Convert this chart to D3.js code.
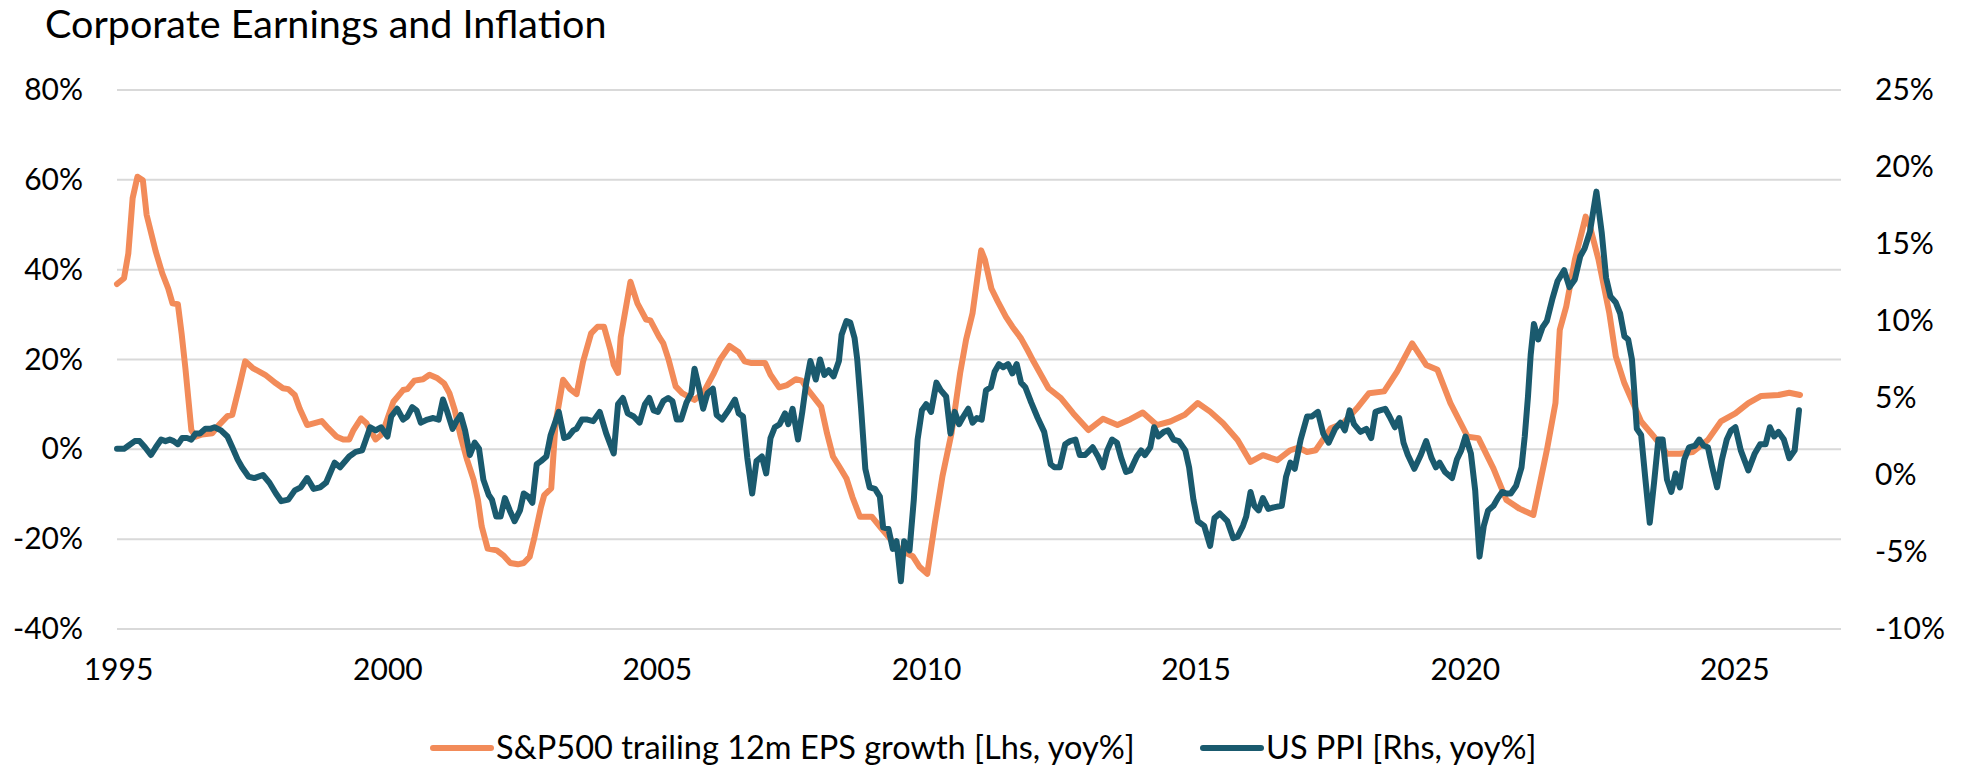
<!DOCTYPE html>
<html>
<head>
<meta charset="utf-8">
<script src="https://cdn.jsdelivr.net/npm/d3@7"></script>
<style>
  body { margin: 0; background: #fff; }
  svg { display: block; font-family: Lato, "Open Sans", sans-serif; }
</style>
</head>
<body>
<svg id="chart" width="1962" height="767"></svg>
<script>
// chart text
const title = "Corporate Earnings and Inflation";
const epsLabel = "S&P500 trailing 12m EPS growth [Lhs, yoy%]";
const ppiLabel = "US PPI [Rhs, yoy%]";

// axis ticks
const yearTicks = [1995, 2000, 2005, 2010, 2015, 2020, 2025];
const leftTicks = [-40, -20, 0, 20, 40, 60, 80];
const rightTicks = [-10, -5, 0, 5, 10, 15, 20, 25];

// S&P500 trailing 12m EPS growth, [decimal year, yoy %]
const epsData = [
  [1995.0, 36.8], [1995.13, 38.1], [1995.21, 43.6], [1995.29, 55.9], [1995.38, 60.7], [1995.48, 59.9],
  [1995.55, 52.2], [1995.72, 44.0], [1995.84, 39.2], [1995.95, 35.8], [1996.03, 32.5], [1996.13, 32.3],
  [1996.2, 25.7], [1996.27, 18.0], [1996.38, 4.3], [1996.46, 2.8], [1996.58, 3.3], [1996.77, 3.6],
  [1996.89, 5.4], [1997.05, 7.4], [1997.14, 7.7], [1997.27, 14.0], [1997.38, 19.6], [1997.52, 18.1],
  [1997.75, 16.6], [1997.95, 14.7], [1998.08, 13.6], [1998.18, 13.4], [1998.3, 12.1], [1998.39, 9.1],
  [1998.53, 5.4], [1998.65, 5.8], [1998.8, 6.3], [1998.92, 4.7], [1999.08, 2.8], [1999.2, 2.2],
  [1999.31, 2.2], [1999.39, 4.3], [1999.53, 6.9], [1999.63, 5.8], [1999.7, 4.3], [1999.8, 2.2],
  [1999.9, 3.2], [1999.98, 5.4], [2000.13, 10.6], [2000.31, 13.2], [2000.39, 13.4], [2000.52, 15.3],
  [2000.68, 15.6], [2000.8, 16.6], [2000.95, 15.8], [2001.07, 14.7], [2001.17, 12.5], [2001.27, 8.7],
  [2001.38, 2.8], [2001.5, -2.4], [2001.62, -6.8], [2001.7, -11.3], [2001.77, -17.2], [2001.88, -22.1],
  [2002.05, -22.5], [2002.17, -23.6], [2002.3, -25.3], [2002.44, -25.6], [2002.55, -25.3], [2002.66, -23.9],
  [2002.75, -19.5], [2002.87, -12.8], [2002.93, -10.2], [2003.06, -8.7], [2003.14, 5.8], [2003.28, 15.5],
  [2003.41, 13.4], [2003.53, 12.3], [2003.65, 19.5], [2003.8, 25.8], [2003.92, 27.3], [2004.04, 27.3],
  [2004.16, 22.1], [2004.22, 18.8], [2004.3, 17.0], [2004.35, 25.0], [2004.53, 37.3], [2004.66, 32.5],
  [2004.82, 28.9], [2004.9, 28.7], [2005.06, 25.1], [2005.14, 23.6], [2005.24, 19.9], [2005.37, 14.0],
  [2005.49, 12.5], [2005.72, 11.0], [2005.88, 12.5], [2006.08, 17.0], [2006.19, 19.9], [2006.37, 23.0],
  [2006.54, 21.6], [2006.65, 19.6], [2006.78, 19.2], [2007.03, 19.2], [2007.13, 16.6], [2007.29, 13.8],
  [2007.44, 14.3], [2007.6, 15.6], [2007.71, 15.3], [2007.83, 13.2], [2008.07, 9.5], [2008.18, 3.5],
  [2008.29, -1.6], [2008.42, -4.1], [2008.54, -6.5], [2008.65, -10.6], [2008.79, -15.0], [2009.01, -15.0],
  [2009.16, -17.2], [2009.32, -19.5], [2009.55, -22.5], [2009.77, -23.8], [2009.9, -26.2], [2010.04, -27.7],
  [2010.18, -16.5], [2010.32, -6.1], [2010.49, 3.6], [2010.65, 17.0], [2010.76, 24.4], [2010.88, 30.3],
  [2011.04, 44.3], [2011.11, 42.2], [2011.23, 35.8], [2011.35, 32.9], [2011.5, 29.5], [2011.62, 27.3],
  [2011.78, 24.7], [2011.9, 22.1], [2012.01, 19.6], [2012.29, 13.6], [2012.52, 11.4], [2012.75, 8.0],
  [2013.03, 4.3], [2013.3, 6.8], [2013.57, 5.4], [2013.81, 6.7], [2014.04, 8.2], [2014.3, 5.4],
  [2014.55, 6.2], [2014.82, 7.7], [2015.06, 10.3], [2015.29, 8.4], [2015.53, 5.8], [2015.8, 2.1],
  [2016.04, -2.8], [2016.27, -1.3], [2016.54, -2.4], [2016.78, -0.2], [2016.93, 0.4], [2017.09, -0.6],
  [2017.25, -0.2], [2017.53, 4.7], [2017.76, 5.8], [2018.04, 9.5], [2018.24, 12.5], [2018.52, 12.9],
  [2018.76, 17.3], [2019.04, 23.6], [2019.3, 18.8], [2019.51, 17.7], [2019.75, 10.3], [2020.07, 2.8],
  [2020.27, 2.5], [2020.55, -4.3], [2020.79, -11.3], [2021.03, -13.2], [2021.29, -14.6], [2021.54, -0.2],
  [2021.7, 10.3], [2021.78, 26.6], [2021.9, 31.8], [2022.06, 42.2], [2022.26, 51.8], [2022.34, 49.6],
  [2022.5, 42.2], [2022.7, 30.3], [2022.82, 20.7], [2022.98, 14.7], [2023.13, 10.6], [2023.29, 6.2],
  [2023.53, 2.8], [2023.77, -1.0], [2024.01, -1.0], [2024.25, -0.6], [2024.53, 2.1], [2024.77, 6.2],
  [2025.04, 8.0], [2025.28, 10.3], [2025.52, 11.9], [2025.84, 12.1], [2026.04, 12.6], [2026.24, 12.1]
];

// US PPI, [decimal year, yoy %]
const ppiData = [
  [1995.0, 1.7], [1995.13, 1.7], [1995.21, 1.9], [1995.33, 2.2], [1995.42, 2.2], [1995.52, 1.8],
  [1995.63, 1.3], [1995.72, 1.8], [1995.82, 2.3], [1995.9, 2.2], [1995.98, 2.3], [1996.05, 2.2],
  [1996.13, 2.0], [1996.21, 2.4], [1996.3, 2.4], [1996.38, 2.3], [1996.46, 2.7], [1996.54, 2.7],
  [1996.64, 3.0], [1996.73, 3.0], [1996.81, 3.1], [1996.93, 2.9], [1997.05, 2.5], [1997.14, 1.8],
  [1997.24, 1.0], [1997.32, 0.5], [1997.44, -0.1], [1997.55, -0.2], [1997.71, 0.0], [1997.83, -0.5],
  [1997.95, -1.2], [1998.05, -1.7], [1998.18, -1.6], [1998.3, -1.0], [1998.41, -0.8], [1998.53, -0.2],
  [1998.65, -0.9], [1998.77, -0.8], [1998.88, -0.5], [1999.04, 0.8], [1999.14, 0.5], [1999.31, 1.2],
  [1999.43, 1.5], [1999.55, 1.6], [1999.61, 2.2], [1999.7, 3.1], [1999.8, 2.9], [1999.9, 3.1],
  [2000.02, 2.5], [2000.09, 3.8], [2000.2, 4.3], [2000.31, 3.6], [2000.39, 3.8], [2000.48, 4.4],
  [2000.56, 4.2], [2000.64, 3.4], [2000.76, 3.6], [2000.87, 3.7], [2000.97, 3.6], [2001.05, 4.9],
  [2001.13, 4.1], [2001.23, 3.0], [2001.3, 3.5], [2001.38, 3.9], [2001.46, 2.9], [2001.55, 1.3],
  [2001.64, 2.1], [2001.72, 1.7], [2001.8, -0.3], [2001.9, -1.3], [2001.96, -1.6], [2002.04, -2.7],
  [2002.12, -2.7], [2002.2, -1.5], [2002.29, -2.3], [2002.38, -3.0], [2002.48, -2.3], [2002.55, -1.2],
  [2002.63, -1.4], [2002.71, -1.8], [2002.79, 0.7], [2002.87, 0.9], [2002.97, 1.2], [2003.05, 2.6],
  [2003.13, 3.4], [2003.2, 4.1], [2003.3, 2.4], [2003.38, 2.5], [2003.47, 2.9], [2003.53, 3.0],
  [2003.63, 3.6], [2003.73, 3.6], [2003.84, 3.5], [2003.96, 4.1], [2004.08, 2.7], [2004.22, 1.4],
  [2004.3, 4.6], [2004.39, 5.0], [2004.48, 4.0], [2004.59, 3.8], [2004.7, 3.4], [2004.8, 4.6],
  [2004.88, 5.0], [2004.96, 4.2], [2005.04, 4.1], [2005.14, 4.8], [2005.23, 5.0], [2005.31, 4.8],
  [2005.39, 3.6], [2005.47, 3.6], [2005.57, 4.7], [2005.66, 5.3], [2005.72, 6.9], [2005.8, 5.7],
  [2005.88, 4.3], [2005.96, 5.3], [2006.06, 5.6], [2006.13, 3.9], [2006.23, 3.6], [2006.35, 4.2],
  [2006.47, 4.9], [2006.54, 4.0], [2006.62, 3.8], [2006.7, 1.1], [2006.79, -1.2], [2006.87, 0.9],
  [2006.97, 1.2], [2007.05, 0.1], [2007.13, 2.4], [2007.21, 3.1], [2007.3, 3.3], [2007.4, 4.0],
  [2007.46, 3.3], [2007.54, 4.3], [2007.64, 2.3], [2007.72, 4.1], [2007.79, 5.9], [2007.87, 7.4],
  [2007.97, 6.2], [2008.05, 7.5], [2008.13, 6.5], [2008.21, 6.8], [2008.3, 6.4], [2008.4, 7.4],
  [2008.45, 9.1], [2008.54, 10.0], [2008.61, 9.9], [2008.69, 8.9], [2008.74, 7.5], [2008.81, 4.4],
  [2008.89, 0.4], [2008.97, -0.8], [2009.07, -0.9], [2009.16, -1.4], [2009.22, -3.4], [2009.32, -3.5],
  [2009.4, -4.8], [2009.47, -4.3], [2009.55, -6.9], [2009.61, -4.3], [2009.71, -4.9], [2009.79, -1.6],
  [2009.86, 2.3], [2009.94, 4.2], [2010.02, 4.6], [2010.11, 4.1], [2010.21, 6.0], [2010.29, 5.5],
  [2010.39, 5.1], [2010.47, 2.7], [2010.55, 4.1], [2010.63, 3.3], [2010.71, 3.8], [2010.8, 4.3],
  [2010.88, 3.4], [2010.96, 3.7], [2011.05, 3.6], [2011.13, 5.5], [2011.22, 5.7], [2011.29, 6.7],
  [2011.37, 7.2], [2011.45, 7.0], [2011.54, 7.2], [2011.62, 6.6], [2011.7, 7.2], [2011.78, 6.0],
  [2011.86, 5.7], [2011.97, 4.7], [2012.09, 3.7], [2012.21, 2.8], [2012.33, 0.7], [2012.4, 0.5],
  [2012.5, 0.5], [2012.6, 2.0], [2012.69, 2.2], [2012.79, 2.3], [2012.87, 1.3], [2012.97, 1.3],
  [2013.11, 1.8], [2013.21, 1.2], [2013.3, 0.5], [2013.38, 1.6], [2013.47, 2.3], [2013.56, 2.1],
  [2013.64, 1.1], [2013.73, 0.2], [2013.81, 0.3], [2013.93, 1.2], [2014.01, 1.6], [2014.08, 1.3],
  [2014.18, 1.8], [2014.25, 3.1], [2014.33, 2.5], [2014.43, 2.8], [2014.51, 2.9], [2014.61, 2.3],
  [2014.71, 2.2], [2014.83, 1.6], [2014.9, 0.5], [2014.98, -1.6], [2015.06, -3.0], [2015.18, -3.3],
  [2015.29, -4.6], [2015.37, -2.8], [2015.47, -2.5], [2015.61, -3.0], [2015.72, -4.1], [2015.8, -4.0],
  [2015.9, -3.3], [2015.96, -2.7], [2016.04, -1.1], [2016.11, -2.0], [2016.19, -2.3], [2016.27, -1.5],
  [2016.37, -2.2], [2016.47, -2.1], [2016.62, -2.0], [2016.7, -0.1], [2016.78, 0.8], [2016.86, 0.4],
  [2016.97, 2.3], [2017.09, 3.8], [2017.18, 3.8], [2017.29, 4.1], [2017.39, 2.7], [2017.49, 2.1],
  [2017.61, 3.0], [2017.71, 3.4], [2017.79, 2.9], [2017.88, 4.2], [2017.96, 3.3], [2018.08, 2.8],
  [2018.19, 3.0], [2018.28, 2.4], [2018.36, 4.1], [2018.44, 4.2], [2018.54, 4.3], [2018.62, 3.8],
  [2018.72, 3.1], [2018.8, 3.7], [2018.88, 2.1], [2018.96, 1.3], [2019.08, 0.4], [2019.2, 1.3],
  [2019.3, 2.2], [2019.4, 1.1], [2019.48, 0.5], [2019.55, 0.8], [2019.65, 0.2], [2019.78, -0.2],
  [2019.87, 1.0], [2019.95, 1.6], [2020.03, 2.5], [2020.13, 1.4], [2020.21, -1.0], [2020.29, -5.3],
  [2020.37, -3.3], [2020.45, -2.3], [2020.55, -2.0], [2020.63, -1.5], [2020.71, -1.1], [2020.79, -1.2],
  [2020.87, -1.2], [2020.97, -0.7], [2021.07, 0.5], [2021.13, 2.5], [2021.19, 5.1], [2021.24, 7.8],
  [2021.3, 9.8], [2021.38, 8.8], [2021.46, 9.6], [2021.54, 10.0], [2021.64, 11.4], [2021.74, 12.6],
  [2021.86, 13.3], [2021.96, 12.2], [2022.06, 12.7], [2022.16, 14.2], [2022.24, 14.7], [2022.34, 15.8],
  [2022.46, 18.4], [2022.56, 15.7], [2022.64, 12.8], [2022.72, 11.6], [2022.82, 11.2], [2022.9, 10.5],
  [2022.98, 9.0], [2023.05, 8.8], [2023.12, 7.5], [2023.17, 5.1], [2023.21, 3.0], [2023.29, 2.6],
  [2023.37, -0.3], [2023.45, -3.1], [2023.53, -0.5], [2023.61, 2.3], [2023.69, 2.3], [2023.77, -0.3],
  [2023.85, -1.1], [2023.93, 0.1], [2024.01, -0.8], [2024.09, 1.0], [2024.18, 1.8], [2024.29, 1.9],
  [2024.37, 2.3], [2024.45, 1.9], [2024.53, 1.8], [2024.61, 0.5], [2024.7, -0.8], [2024.79, 1.0],
  [2024.88, 2.3], [2024.96, 2.9], [2025.04, 3.1], [2025.14, 1.6], [2025.28, 0.3], [2025.4, 1.4],
  [2025.5, 2.0], [2025.6, 2.0], [2025.68, 3.1], [2025.76, 2.5], [2025.84, 2.8], [2025.94, 2.3],
  [2026.04, 1.1], [2026.14, 1.6], [2026.22, 4.2]
];

const colors = { eps: "#F28B59", ppi: "#1A5A6E", grid: "#D9D9D9", text: "#000" };

const svg = d3.select("#chart");
const plot = { left: 117, right: 1841, top: 90, bottom: 629 };

const x = d3.scaleLinear().domain([1995, 2027]).range([plot.left, plot.right]);
const yL = d3.scaleLinear().domain([-40, 80]).range([plot.bottom, plot.top]);
const yR = d3.scaleLinear().domain([-10, 25]).range([plot.bottom, plot.top]);

// title
svg.append("text")
  .attr("x", 45).attr("y", 38)
  .attr("font-size", 39.5)
  .attr("fill", colors.text)
  .text(title);

// gridlines
svg.append("g")
  .selectAll("line")
  .data(leftTicks)
  .join("line")
  .attr("x1", plot.left).attr("x2", plot.right)
  .attr("y1", d => yL(d)).attr("y2", d => yL(d))
  .attr("stroke", colors.grid)
  .attr("stroke-width", 2);

// axes
const fmt = d => d + "%";
const gL = svg.append("g")
  .attr("transform", `translate(${plot.left - 34},0)`)
  .call(d3.axisLeft(yL).tickValues(leftTicks).tickFormat(fmt).tickSize(0).tickPadding(0));
const gR = svg.append("g")
  .attr("transform", `translate(${plot.right + 34},0)`)
  .call(d3.axisRight(yR).tickValues(rightTicks).tickFormat(fmt).tickSize(0).tickPadding(0));
const gX = svg.append("g")
  .attr("transform", `translate(0,${plot.bottom + 30})`)
  .call(d3.axisBottom(x).tickValues(yearTicks).tickFormat(d3.format("d")).tickSize(0).tickPadding(0));

[gL, gR, gX].forEach(g => {
  g.select(".domain").remove();
  g.selectAll("text")
    .attr("font-family", "Lato, 'Open Sans', sans-serif")
    .attr("font-size", 30)
    .attr("fill", colors.text);
});
gX.selectAll("text").attr("dy", "0.71em").attr("x", 1);

// lines
const lineL = d3.line().x(d => x(d[0])).y(d => yL(d[1]));
const lineR = d3.line().x(d => x(d[0])).y(d => yR(d[1]));

svg.append("path")
  .datum(epsData)
  .attr("d", lineL)
  .attr("fill", "none")
  .attr("stroke", colors.eps)
  .attr("stroke-width", 6)
  .attr("stroke-linejoin", "round")
  .attr("stroke-linecap", "round");

svg.append("path")
  .datum(ppiData)
  .attr("d", lineR)
  .attr("fill", "none")
  .attr("stroke", colors.ppi)
  .attr("stroke-width", 6)
  .attr("stroke-linejoin", "round")
  .attr("stroke-linecap", "round");

// legend
const legendItems = [
  { label: epsLabel, color: colors.eps, x: 433 },
  { label: ppiLabel, color: colors.ppi, x: 1203 }
];
const lg = svg.append("g").selectAll("g")
  .data(legendItems)
  .join("g")
  .attr("transform", d => `translate(${d.x},748)`);
lg.append("line")
  .attr("x1", 0).attr("x2", 58)
  .attr("stroke", d => d.color)
  .attr("stroke-width", 6)
  .attr("stroke-linecap", "round");
lg.append("text")
  .attr("x", 63)
  .attr("dy", "0.35em")
  .attr("font-size", 32.5)
  .attr("fill", colors.text)
  .text(d => d.label);
</script>
</body>
</html>
